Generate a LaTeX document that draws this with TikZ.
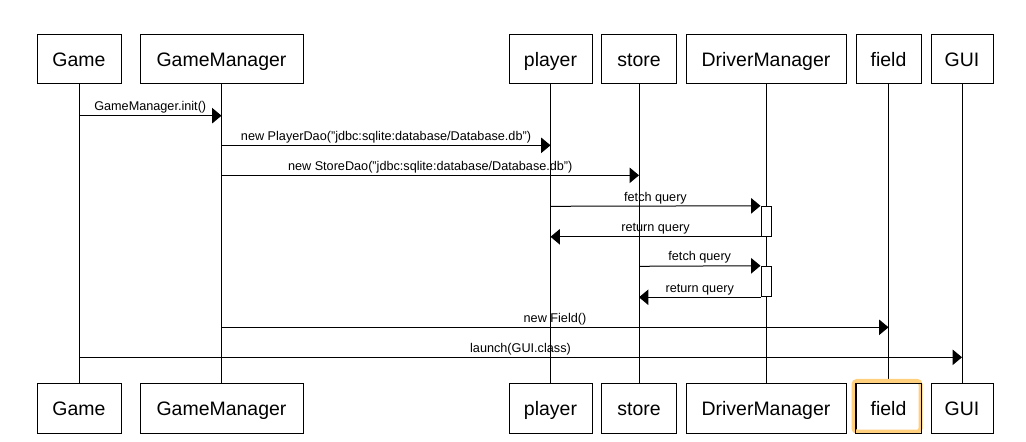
\documentclass[tikz,border=0pt]{standalone}
\usepackage{fontspec}
\setmainfont{Liberation Sans}
\usetikzlibrary{arrows.meta,calc}
\definecolor{hl}{RGB}{255,208,125}
\begin{document}
\begin{tikzpicture}[x=0.75pt,y=-0.75pt,line width=0.75pt,
  obj/.style={draw,fill=white,minimum height=36.75pt,inner sep=0pt,text height=10.45pt,text depth=0pt,font=\fontsize{14.6}{17}\selectfont},
  act/.style={draw,fill=white,minimum width=7.5pt,inner sep=0pt},
  msg/.style={-{Triangle[length=7pt,width=11.5pt]}},
  lbl/.style={above,inner sep=1.4pt,text height=6.85pt,text depth=2pt,font=\fontsize{9.5}{11}\selectfont}]
\useasboundingbox (0,0) rectangle (1026,442);
% rows
\coordinate (m1) at (0,115.7);
\coordinate (m2) at (0,145.3);
\coordinate (m3) at (0,175.3);
\coordinate (m4) at (0,206.3);
\coordinate (m5) at (0,236.3);
\coordinate (m6) at (0,266.3);
\coordinate (m7) at (0,296.5);
\coordinate (m8) at (0,327.3);
\coordinate (m9) at (0,357.3);
% top objects
\node[obj,minimum width=63pt]    (gT) at (79,59.5)    {Game};
\node[obj,minimum width=122.25pt] (gmT) at (221.5,59.5) {GameManager};
\node[obj,minimum width=62.25pt] (pT) at (550.5,59.5)  {player};
\node[obj,minimum width=56.25pt] (sT) at (639,59.5)    {store};
\node[obj,minimum width=120pt]   (dT) at (766,59.5)    {DriverManager};
\node[obj,minimum width=48.75pt] (fT) at (888.5,59.5)  {field};
\node[obj,minimum width=46.5pt]  (uT) at (962,59.5)    {GUI};
% bottom objects
\node[obj,minimum width=63pt]    (gB) at (79,408.5)    {Game};
\node[obj,minimum width=122.25pt] (gmB) at (221.5,408.5) {GameManager};
\node[obj,minimum width=62.25pt] (pB) at (550.5,408.5)  {player};
\node[obj,minimum width=56.25pt] (sB) at (639,408.5)    {store};
\node[obj,minimum width=120pt]   (dB) at (766,408.5)    {DriverManager};
\node[obj,minimum width=48.75pt] (fB) at (888.5,408.5)  {field};
\node[obj,minimum width=46.5pt]  (uB) at (962,408.5)    {GUI};
% lifelines
\foreach \a/\b in {gT/gB,gmT/gmB,pT/pB,sT/sB,dT/dB,fT/fB,uT/uB}
  \draw (\a.south) -- (\b.north);
% selection highlight on the bottom field box, with its outline kept on top
\draw[hl,line width=3pt,rounded corners=2.5pt] ($(fB.north west)+(-2,-2.5)$) rectangle ($(fB.south east)+(-1,-1.8)$);
\draw (fB.north west) rectangle (fB.south east);
% activation bars
\node[act,minimum height=22.5pt] (a1) at ($(dT.south |- m4)+(0,15)$) {};
\node[act,minimum height=22.9pt] (a2) at ($(dT.south |- m6)+(0,15.2)$) {};
% messages
\draw[msg] (gT.south |- m1) -- node[lbl]{GameManager.init()} (gmT.south |- m1);
\draw[msg] (gmT.south |- m2) -- node[lbl]{new PlayerDao("jdbc:sqlite:database/Database.db")} (pT.south |- m2);
\draw[msg] (gmT.south |- m3) -- node[lbl]{new StoreDao("jdbc:sqlite:database/Database.db")} (sT.south |- m3);
\draw[msg] (pT.south |- m4) -- node[lbl]{fetch query} (a1.north west);
\draw[msg] (a1.south west) -- node[lbl]{return query} (pT.south |- a1.south);
\draw[msg] (sT.south |- m6) -- node[lbl]{fetch query} (a2.north west);
\draw[msg] (a2.south west) -- node[lbl]{return query} (sT.south |- a2.south);
\draw[msg] (gmT.south |- m8) -- node[lbl]{new Field()} (fT.south |- m8);
\draw[msg] (gT.south |- m9) -- node[lbl]{launch(GUI.class)} (uT.south |- m9);
\end{tikzpicture}
\end{document}
